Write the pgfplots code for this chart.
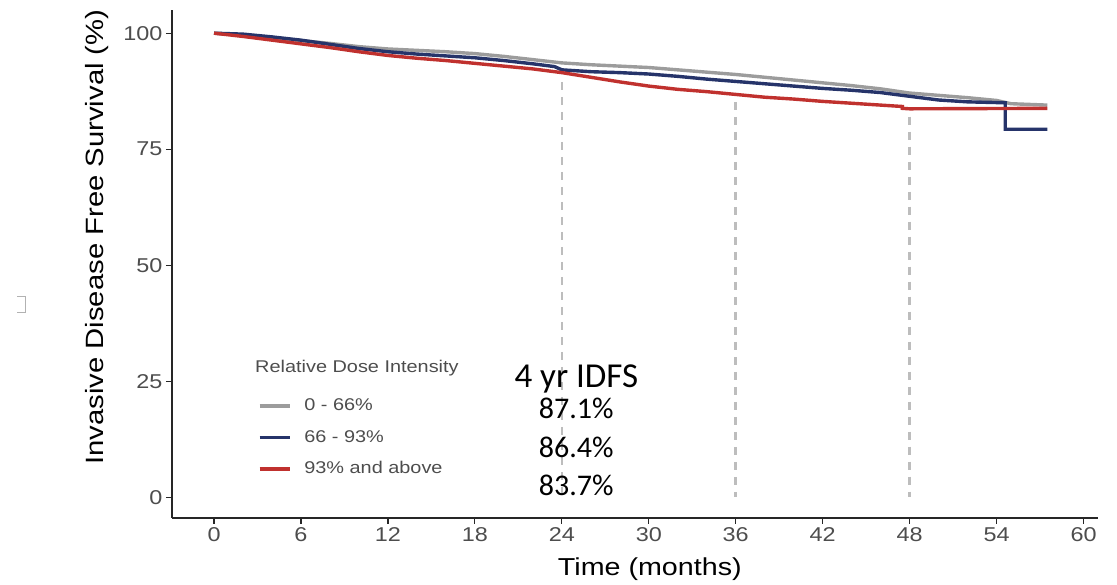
\documentclass[border=0pt]{standalone}
\usepackage{pgfplots}
\pgfplotsset{compat=1.18}
\usepackage{fontspec}
\setmainfont{Liberation Sans}[FakeStretch=1.17]
\newfontfamily\calfont{Carlito}
\definecolor{cgray}{HTML}{9C9C9C}
\definecolor{cblue}{HTML}{26346A}
\definecolor{cred}{HTML}{C0312E}
\definecolor{ctick}{HTML}{4D4D4D}
\definecolor{cdash}{HTML}{BDBDBD}
\begin{document}
\begin{tikzpicture}[x=1pt,y=1pt]
\path[use as bounding box] (0,0) rectangle (1117,584);
\draw[black!30, line width=1pt] (17,287) -- (25,287) -- (25,271) -- (17,271);
\begin{axis}[
  at={(172pt,66pt)}, anchor=south west,
  scale only axis, width=926pt, height=508pt,
  xmin=-2.9, xmax=61, ymin=-4.5, ymax=105,
  axis x line*=bottom, axis y line*=left,
  axis line style={-, black!85, line width=1.5pt},
  xtick={0,6,...,60}, ytick={0,25,50,75,100},
  tick align=outside, major tick length=6pt,
  tick style={black!85, line width=1.2pt},
  /pgf/number format/assume math mode=true,
  ticklabel style={font=\fontsize{20}{20}\selectfont, text=ctick},
  xlabel={Time (months)},
  ylabel={Invasive Disease Free Survival (\%)},
  xlabel style={font=\fontsize{24.5}{24.5}\selectfont, at={(axis description cs:0.516,0)}, anchor=north, yshift=-36pt},
  ylabel style={font=\fontsize{25}{25}\selectfont, at={(axis description cs:0,0.553)}, anchor=south, yshift=60pt},
  legend image code/.code={\draw[#1, line width=3.2pt] (0pt,0pt) -- (30pt,0pt);},
  legend style={at={(axis cs:3.03,21.3)}, anchor=north west, draw=none, fill=none, inner sep=0pt,
    font=\fontsize{17}{17}\selectfont, text=ctick, row sep=16.5pt, column sep=13pt,
    nodes={inner sep=0pt, text height=12pt, text depth=3pt}},
  legend cell align=left,
  clip=false,
]
% dashed reference lines
\addplot[cdash, line width=2.6pt, dash pattern=on 8pt off 7pt, forget plot] coordinates {(24,89.5) (24,0)};
\addplot[cdash, line width=2.6pt, dash pattern=on 8pt off 7pt, forget plot] coordinates {(36,85.2) (36,0)};
\addplot[cdash, line width=2.6pt, dash pattern=on 8pt off 7pt, forget plot] coordinates {(48,82.0) (48,0)};
% 0 - 66%
\addplot[cgray, line width=3.4pt] coordinates {
(0,100) (2,99.6) (4,99.0) (6,98.4) (8,97.8) (10,97.1) (12,96.6) (14,96.3) (16,96.0) (18,95.6)
(20,95.0) (22,94.3) (24,93.6) (26,93.2) (28,92.9) (30,92.6) (32,92.1) (34,91.6) (36,91.1)
(38,90.5) (40,89.9) (42,89.3) (44,88.7) (46,88.0) (48,87.1) (50,86.6) (52,86.1) (54,85.5)
(55,84.8) (57.5,84.5)};
% 66 - 93%
\addplot[cblue, line width=3.4pt] coordinates {
(0,100) (2,99.8) (4,99.2) (6,98.5) (8,97.6) (10,96.7) (12,96.0) (14,95.5) (16,95.1) (18,94.7)
(20,94.1) (22,93.4) (23.5,92.8) (24,92.1) (26,91.7) (28,91.5) (30,91.2) (32,90.7) (34,90.1)
(36,89.6) (38,89.1) (40,88.6) (42,88.1) (44,87.7) (46,87.2) (48,86.4) (50,85.6) (52,85.2)
(54.6,85.0) (54.6,79.3) (57.5,79.3)};
% 93% and above
\addplot[cred, line width=3.4pt] coordinates {
(0,100) (2,99.3) (4,98.5) (6,97.7) (8,96.9) (10,96.0) (12,95.2) (14,94.6) (16,94.1) (18,93.5)
(20,92.9) (22,92.3) (24,91.5) (26,90.5) (28,89.5) (30,88.6) (32,87.9) (34,87.4) (36,86.8)
(38,86.2) (40,85.8) (42,85.3) (44,84.9) (46,84.5) (47.5,84.2) (47.5,83.8) (48,83.7) (57.5,83.8)};
\legend{0 - 66\%, 66 - 93\%, 93\% and above}
\node[anchor=west, font=\fontsize{17}{17}\selectfont, text=ctick, inner sep=0pt] at (axis cs:2.83,27.8) {Relative Dose Intensity};
\node[anchor=base, font=\calfont\fontsize{35}{35}\selectfont, inner sep=0pt] at (axis cs:25,23.7) {4 yr IDFS};
\node[anchor=base, font=\calfont\fontsize{30}{30}\selectfont, inner sep=0pt] at (axis cs:25,17.0) {87.1\%};
\node[anchor=base, font=\calfont\fontsize{30}{30}\selectfont, inner sep=0pt] at (axis cs:25,8.6) {86.4\%};
\node[anchor=base, font=\calfont\fontsize{30}{30}\selectfont, inner sep=0pt] at (axis cs:25,0.4) {83.7\%};
\end{axis}
\end{tikzpicture}
\end{document}
